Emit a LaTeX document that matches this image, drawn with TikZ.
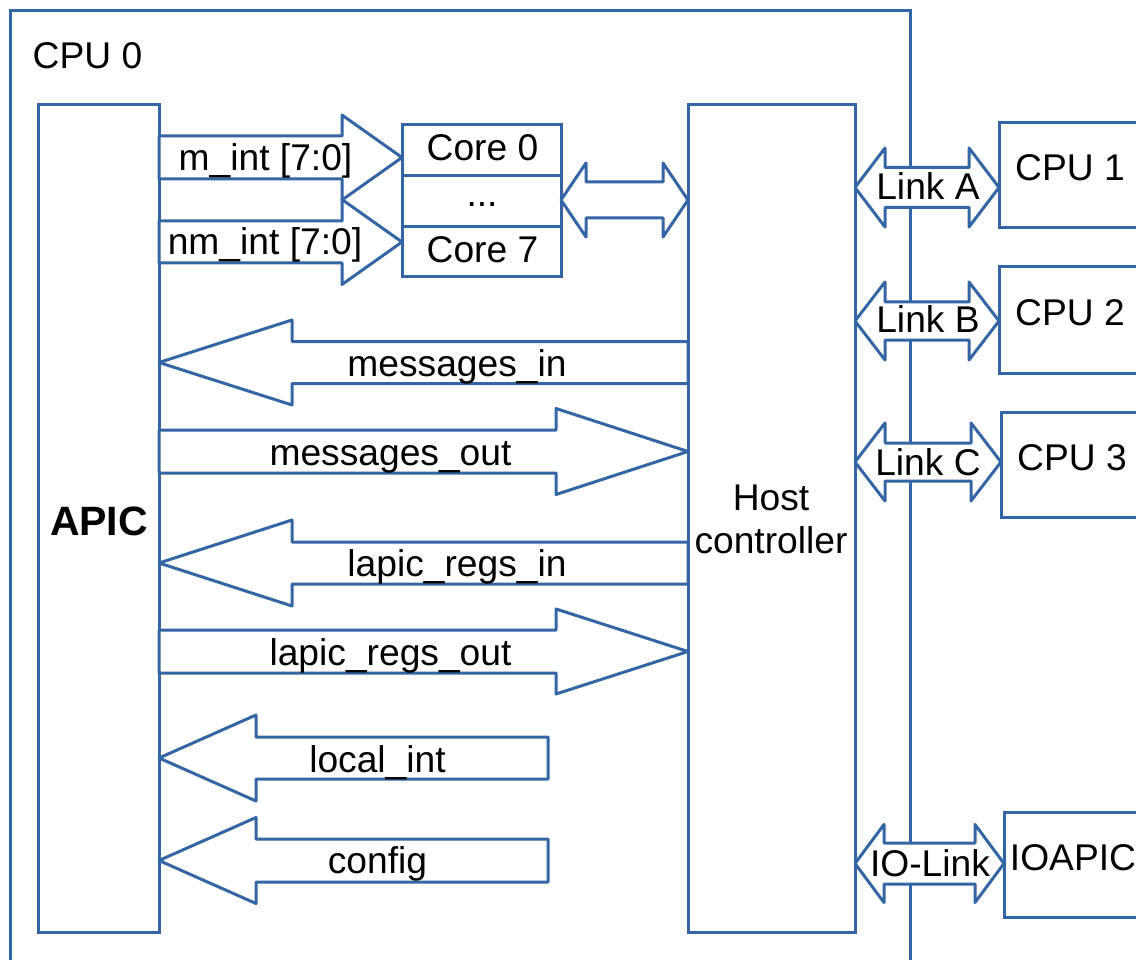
\documentclass[tikz,border=0pt]{standalone}
\usepackage{fontspec}
\setmainfont{Liberation Sans}
\usetikzlibrary{calc}
\definecolor{wire}{RGB}{52,101,164}
\tikzset{
  box/.style={draw=wire, line width=3pt, inner sep=0pt, outer sep=0pt, anchor=north west},
  txt/.style={anchor=base, inner sep=0pt, font=\fontsize{37.2pt}{43pt}\selectfont},
  blk/.style={draw=wire, fill=white, line width=3pt, line join=round},
  % block arrow pointing right: shaft half width, head half width, head length
  rarr/.style n args={3}{blk, to path={let \p1=(\tikztostart), \p2=(\tikztotarget) in
    (\x1,\y1+#1) -- (\x2-#3,\y1+#1) -- (\x2-#3,\y1+#2) -- (\x2,\y2)
    -- (\x2-#3,\y1-#2) -- (\x2-#3,\y1-#1) -- (\x1,\y1-#1) -- cycle}},
  % block arrow pointing left
  larr/.style n args={3}{blk, to path={let \p1=(\tikztostart), \p2=(\tikztotarget) in
    (\x1,\y1+#1) -- (\x2+#3,\y1+#1) -- (\x2+#3,\y1+#2) -- (\x2,\y2)
    -- (\x2+#3,\y1-#2) -- (\x2+#3,\y1-#1) -- (\x1,\y1-#1) -- cycle}},
  % two-headed block arrow
  darr/.style n args={3}{blk, to path={let \p1=(\tikztostart), \p2=(\tikztotarget) in
    (\x1,\y1) -- (\x1+#3,\y1+#2) -- (\x1+#3,\y1+#1) -- (\x2-#3,\y1+#1) -- (\x2-#3,\y1+#2)
    -- (\x2,\y2) -- (\x2-#3,\y1-#2) -- (\x2-#3,\y1-#1) -- (\x1+#3,\y1-#1) -- (\x1+#3,\y1-#2) -- cycle}},
}
\begin{document}
\begin{tikzpicture}[x=1pt,y=-1pt]
\useasboundingbox (0,0) rectangle (1136,960);
\clip (0,0) rectangle (1136,960);

% boxes
\node[box, minimum width=900pt, minimum height=1000pt] (cpu0) at (10,11) {};
\node[box, minimum width=121pt, minimum height=827pt] (apic) at (38,105) {};
\node[box, minimum width=167pt, minimum height=827pt] (host) at (688,105) {};
\node[box, minimum width=159pt, minimum height=51pt] (core0) at (402,125) {};
\node[box, minimum width=159pt, minimum height=51pt] (cdots) at (402,176) {};
\node[box, minimum width=159pt, minimum height=50pt] (core7) at (402,227) {};
\node[box, minimum width=160pt, minimum height=105pt] (cpu1) at (999,123) {};
\node[box, minimum width=160pt, minimum height=106pt] (cpu2) at (999,267) {};
\node[box, minimum width=160pt, minimum height=105pt] (cpu3) at (1001,412) {};
\node[box, minimum width=160pt, minimum height=105pt] (ioapic) at (1004,812) {};

% interrupt lines to the cores
\draw[rarr={21.5pt}{42.5pt}{60pt}] (apic.east |- 0,157.5) to (core0.west |- 0,157.5);
\draw[rarr={21pt}{42.5pt}{60pt}] (apic.east |- 0,242) to (core7.west |- 0,242);
\draw[darr={18pt}{37pt}{25pt}] (cdots.east |- 0,200) to (host.west |- 0,200);

% APIC <-> host controller
\draw[larr={21pt}{42.5pt}{133pt}] (host.west |- 0,362.5) to (apic.east |- 0,362.5);
\draw[rarr={21.5pt}{43pt}{132pt}] (apic.east |- 0,451.5) to (host.west |- 0,451.5);
\draw[larr={21pt}{43pt}{133pt}] (host.west |- 0,563) to (apic.east |- 0,563);
\draw[rarr={21.5pt}{42.5pt}{132pt}] (apic.east |- 0,651.5) to (host.west |- 0,651.5);
\coordinate (intend) at (548,758);
\coordinate (cfgend) at (548,860.5);
\draw[larr={21pt}{43pt}{97pt}] (intend) to (apic.east |- intend);
\draw[larr={21.5pt}{43pt}{97pt}] (cfgend) to (apic.east |- cfgend);

% external links
\draw[darr={20pt}{39.5pt}{30pt}] (host.east |- 0,187.5) to (cpu1.west |- 0,187.5);
\draw[darr={19pt}{39pt}{30pt}] (host.east |- 0,321) to (cpu2.west |- 0,321);
\draw[darr={19pt}{39pt}{30pt}] (host.east |- 0,462) to (cpu3.west |- 0,462);
\draw[darr={20.5pt}{39pt}{29pt}] (host.east |- 0,863.5) to (ioapic.west |- 0,863.5);

% labels
\node[txt] at (87.5,69) {CPU 0};
\node[txt, font=\bfseries\fontsize{41pt}{48pt}\selectfont] at (99,535) {APIC};
\node[txt, anchor=center, align=center] at (771,519) {Host\\controller};
\node[txt] at (265.5,171) {m\_int [7:0]};
\node[txt] at (265,255) {nm\_int [7:0]};
\node[txt] at (482.5,161) {Core 0};
\node[txt] at (482,207) {...};
\node[txt] at (482.5,263) {Core 7};
\node[txt] at (457,376) {messages\_in};
\node[txt] at (390.5,465) {messages\_out};
\node[txt] at (457,576) {lapic\_regs\_in};
\node[txt] at (390.5,665) {lapic\_regs\_out};
\node[txt] at (377.5,772) {local\_int};
\node[txt] at (377.5,873) {config};
\node[txt] at (928,200) {Link A};
\node[txt] at (928,333) {Link B};
\node[txt] at (928,475) {Link C};
\node[txt] at (930,876) {IO-Link};
\node[txt] at (1070,181) {CPU 1};
\node[txt] at (1070,325) {CPU 2};
\node[txt] at (1072,470) {CPU 3};
\node[txt] at (1073,870) {IOAPIC};
\end{tikzpicture}
\end{document}
